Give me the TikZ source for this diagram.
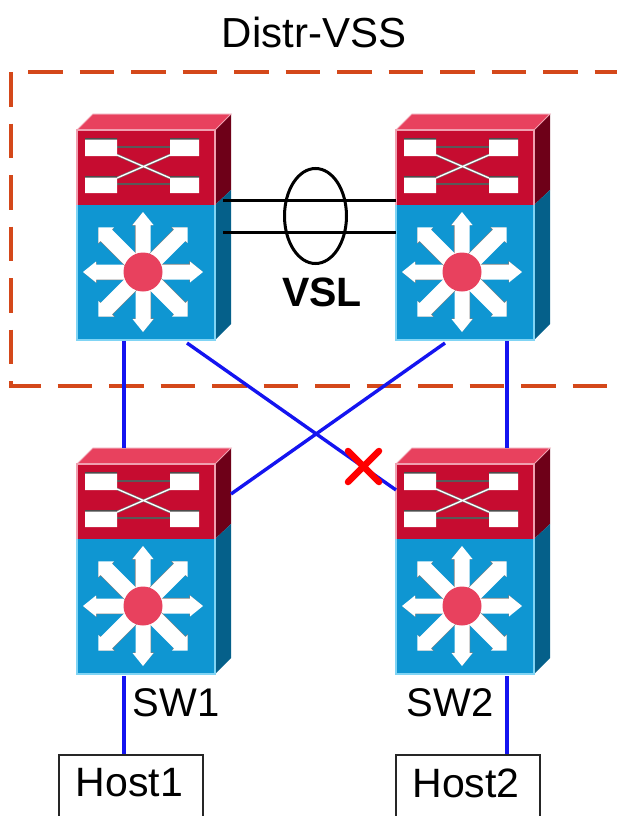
\documentclass[tikz,border=0pt]{standalone}
\usepackage{fontspec}
\usetikzlibrary{shapes.geometric}
\setmainfont{Liberation Sans}
\definecolor{redfront}{HTML}{C60C30}
\definecolor{redtop}{HTML}{E8415E}
\definecolor{redside}{HTML}{6E0018}
\definecolor{rededge}{HTML}{F0A0B0}
\definecolor{bluefront}{HTML}{0F96D2}
\definecolor{blueside}{HTML}{05608A}
\definecolor{blueedge}{HTML}{80D4F4}
\definecolor{bluelink}{HTML}{1414F0}
\definecolor{dashorange}{HTML}{D4481A}
\tikzset{
  bodyframe/.style={minimum width=138pt,minimum height=210pt,inner sep=0pt,outer sep=0pt,anchor=north west},
  linkline/.style={bluelink,line width=3.4pt},
  vslline/.style={black,line width=3pt},
  dashline/.style={dashorange,line width=4.4pt,dash pattern=on 34.5pt off 17pt},
  labeltext/.style={font=\fontsize{40}{44}\selectfont,inner sep=0pt},
  hostbox/.style={draw=black!85,line width=2pt,fill=white,minimum width=144pt,minimum height=90pt,inner sep=0pt},
  whitepart/.style={fill=white,draw=none},
}
\newcommand{\oneswitch}[3]{%
  \node[bodyframe] (#1) at (#2,#3) {};
  \begin{scope}[shift={(#2,#3)}]
    \fill[redtop] (0,0) -- (16,-16) -- (154,-16) -- (138,0) -- cycle;
    \fill[redside] (138,0) -- (154,-16) -- (154,60) -- (138,75) -- cycle;
    \fill[blueside] (138,75) -- (154,60) -- (154,194) -- (138,210) -- cycle;
    \fill[redfront] (0,0) rectangle (138,75);
    \fill[bluefront] (0,75) rectangle (138,210);
    \draw[rededge,line width=1.2pt] (0,75) -- (0,0) -- (138,0) -- (138,75);
    \draw[rededge,line width=1pt] (0,0) -- (16,-16) -- (154,-16) -- (138,0);
    \draw[blueedge,line width=1.4pt] (0,75) -- (0,210) -- (138,210) -- (138,75);
    % crossbar
    \draw[black!65,line width=1.4pt] (40,17) -- (93,17) (40,54) -- (93,54);
    \draw[black!55,line width=2.6pt] (40,25) -- (93,48) (40,48) -- (93,25);
    \draw[white,line width=1.3pt] (40,25) -- (93,48) (40,48) -- (93,25);
    \fill[black!70] (8,8) rectangle (40,10) (93,8) rectangle (122,10) (8,46) rectangle (40,48) (93,46) rectangle (122,48);
    \fill[whitepart] (8,9.5) rectangle (40,26) (93,9.5) rectangle (122,26) (8,47.5) rectangle (40,63) (93,47.5) rectangle (122,63);
    % star of arrows
    \begin{scope}[shift={(66,142)}]
      \foreach \a in {0,90,180,270} {
        \fill[black!50,rotate=\a,shift={(-.6,-.6)}] (10,-7.5) -- (47,-7.5) -- (47,-10.5) -- (60,0) -- (47,10.5) -- (47,7.5) -- (10,7.5) -- cycle;
        \fill[white,rotate=\a] (10,-7.5) -- (47,-7.5) -- (47,-10.5) -- (60,0) -- (47,10.5) -- (47,7.5) -- (10,7.5) -- cycle;
      }
      \foreach \a in {45,135,225,315} {
        \fill[black!50,rotate=\a,shift={(-.6,-.6)}] (10,-8) -- (52,-8) -- (52,-11) -- (63,0) -- (52,11) -- (52,8) -- (10,8) -- cycle;
        \fill[white,rotate=\a] (10,-8) -- (52,-8) -- (52,-11) -- (63,0) -- (52,11) -- (52,8) -- (10,8) -- cycle;
      }
      \fill[redtop] (0,0) circle (19.5);
    \end{scope}
  \end{scope}
}
\begin{document}
\begin{tikzpicture}[x=1pt,y=-1pt]
\useasboundingbox (0,0) rectangle (617,816);
\fill[white] (0,0) rectangle (617,816);
\node[labeltext,font=\fontsize{42}{46}\selectfont] (title) at (314,32) {Distr-VSS};
\draw[dashline] (28,72) -- (640,72);
\draw[dashline] (11,72) -- (11,386) -- (640,386);
\oneswitch{dl}{77}{130}
\oneswitch{dr}{396}{130}
\oneswitch{swa}{77}{464}
\oneswitch{swb}{396}{464}
\node[hostbox] (hosta) at (131,800) {};
\node[hostbox] (hostb) at (468,800) {};
\node[labeltext,font=\fontsize{41}{44}\selectfont] (hosttexta) at (129.5,783) {Host1};
\node[labeltext,font=\fontsize{41}{44}\selectfont] (hosttextb) at (466,783) {Host2};
% links
\draw[linkline] ([xshift=47pt,yshift=-1pt]dl.south west) -- ([xshift=47pt,yshift=16pt]swa.north west);
\draw[linkline] ([xshift=111pt,yshift=-1pt]dr.south west) -- ([xshift=111pt,yshift=16pt]swb.north west);
\draw[linkline] ([xshift=110pt,yshift=-3pt]dl.south west) -- ([yshift=-26pt]swb.north west);
\draw[linkline] ([xshift=49pt,yshift=-3pt]dr.south west) -- ([xshift=16pt,yshift=-30pt]swa.north east);
\draw[linkline] ([xshift=47pt,yshift=-2pt]swa.south west) -- ([xshift=-7pt]hosta.north);
\draw[linkline] ([xshift=111pt,yshift=-2pt]swb.south west) -- ([xshift=39pt]hostb.north);
% VSL
\draw[vslline] ([xshift=8pt,yshift=35pt]dl.east) -- ([yshift=35pt]dr.west);
\draw[vslline] ([xshift=8pt,yshift=3pt]dl.east) -- ([yshift=3pt]dr.west);
\node[draw=black,line width=3pt,ellipse,minimum width=62pt,minimum height=95pt,inner sep=0pt] (bundle) at (315.5,216) {};
\node[labeltext,font=\fontsize{41}{44}\selectfont\bfseries] (vsl) at (322,292) {VSL};
\node[labeltext] (lsa) at (176,703) {SW1};
\node[labeltext] (lsb) at (450,703) {SW2};
% failed link mark
\draw[red,line width=6.5pt,line cap=round] (348,451) -- (379,482) (379,451) -- (348,482);
\end{tikzpicture}
\end{document}
